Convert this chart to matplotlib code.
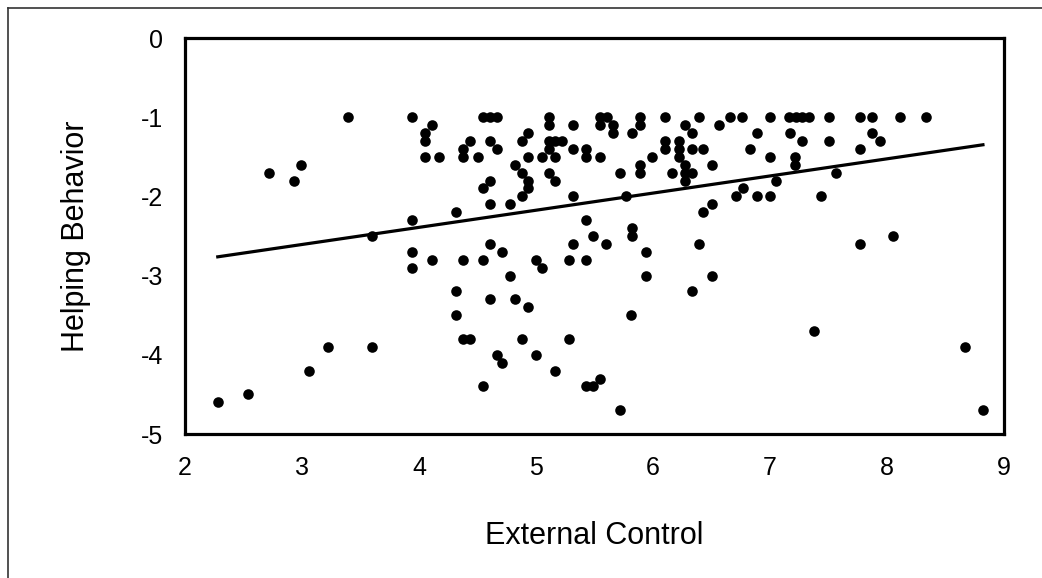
import numpy as np
import matplotlib.pyplot as plt
from matplotlib.lines import Line2D

plt.rcParams['font.family'] = ['Liberation Sans', 'DejaVu Sans']
plt.rcParams['axes.unicode_minus'] = False

# External Control (x) and Helping Behavior (y)
external_control = [
    2.28, 2.54, 2.72, 2.93, 2.99, 3.06, 3.22, 3.39, 3.60, 3.60,
    3.94, 3.94, 3.94, 3.94,
    4.05, 4.05, 4.05, 4.11, 4.11, 4.17,
    4.32, 4.32, 4.32,
    4.38, 4.38, 4.38, 4.38, 4.44, 4.44,
    4.50,
    4.55, 4.55, 4.55, 4.55,
    4.61, 4.61, 4.61, 4.61, 4.61, 4.61,
    4.67, 4.67, 4.67, 4.71, 4.71,
    4.78, 4.78, 4.82, 4.82,
    4.88, 4.88, 4.88, 4.88,
    4.93, 4.93, 4.93, 4.93, 4.93,
    5.00, 5.00, 5.05, 5.05,
    5.11, 5.11, 5.11, 5.11, 5.11,
    5.16, 5.16, 5.16, 5.16, 5.22,
    5.28, 5.28,
    5.32, 5.32, 5.32, 5.32,
    5.43, 5.43, 5.43, 5.43, 5.43,
    5.49, 5.49,
    5.55, 5.55, 5.55, 5.55,
    5.61, 5.60,
    5.66, 5.66,
    5.72, 5.72, 5.77,
    5.82, 5.82, 5.82, 5.81,
    5.89, 5.89, 5.89, 5.89,
    5.94, 5.94, 5.99,
    6.10, 6.10, 6.10,
    6.16,
    6.22, 6.22, 6.22,
    6.27, 6.27, 6.27, 6.27,
    6.33, 6.33, 6.33, 6.33,
    6.39, 6.39,
    6.43, 6.43,
    6.50, 6.50, 6.50,
    6.56,
    6.66, 6.71, 6.76, 6.77, 6.83,
    6.89, 6.89,
    7.00, 7.00, 7.00, 7.05,
    7.16, 7.17, 7.22, 7.21, 7.21,
    7.27, 7.27, 7.33,
    7.38, 7.44,
    7.50, 7.50, 7.56,
    7.77, 7.77, 7.77,
    7.87, 7.87, 7.94,
    8.05, 8.11, 8.33,
    8.67, 8.82,
]
helping_behavior = [
    -4.6, -4.5, -1.7, -1.8, -1.6, -4.2, -3.9, -1.0, -2.5, -3.9,
    -1.0, -2.3, -2.7, -2.9,
    -1.2, -1.3, -1.5, -1.1, -2.8, -1.5,
    -2.2, -3.2, -3.5,
    -1.4, -1.5, -2.8, -3.8, -1.3, -3.8,
    -1.5,
    -1.0, -1.9, -2.8, -4.4,
    -1.0, -1.3, -1.8, -2.1, -2.6, -3.3,
    -1.0, -1.4, -4.0, -2.7, -4.1,
    -2.1, -3.0, -1.6, -3.3,
    -1.3, -1.7, -2.0, -3.8,
    -1.2, -1.5, -1.8, -1.9, -3.4,
    -2.8, -4.0, -1.5, -2.9,
    -1.0, -1.1, -1.3, -1.4, -1.7,
    -1.3, -1.5, -1.8, -4.2, -1.3,
    -2.8, -3.8,
    -1.1, -1.4, -2.0, -2.6,
    -1.4, -1.5, -2.3, -2.8, -4.4,
    -2.5, -4.4,
    -1.0, -1.1, -1.5, -4.3,
    -1.0, -2.6,
    -1.1, -1.2,
    -1.7, -4.7, -2.0,
    -1.2, -2.4, -2.5, -3.5,
    -1.0, -1.1, -1.6, -1.7,
    -2.7, -3.0, -1.5,
    -1.0, -1.3, -1.4,
    -1.7,
    -1.3, -1.4, -1.5,
    -1.1, -1.6, -1.7, -1.8,
    -1.2, -1.4, -1.7, -3.2,
    -1.0, -2.6,
    -1.4, -2.2,
    -1.6, -2.1, -3.0,
    -1.1,
    -1.0, -2.0, -1.0, -1.9, -1.4,
    -1.2, -2.0,
    -1.0, -1.5, -2.0, -1.8,
    -1.0, -1.2, -1.0, -1.5, -1.6,
    -1.0, -1.3, -1.0,
    -3.7, -2.0,
    -1.0, -1.3, -1.7,
    -1.0, -1.4, -2.6,
    -1.0, -1.2, -1.3,
    -2.5, -1.0, -1.0,
    -3.9, -4.7,
]

x_ticks = [2, 3, 4, 5, 6, 7, 8, 9]
y_ticks = [0, -1, -2, -3, -4, -5]

x = np.array(external_control)
y = np.array(helping_behavior)

fig = plt.figure(figsize=(10.42, 5.78), dpi=100)
ax = fig.add_axes([185 / 1042, 1 - 434 / 578, (1004 - 185) / 1042, (434 - 38) / 578])

ax.scatter(x, y, s=58, color='black', zorder=3, linewidths=0)

# linear trendline over the data range
slope, intercept = np.polyfit(x, y, 1)
xs = np.array([x.min(), x.max()])
ax.plot(xs, slope * xs + intercept, color='black', lw=2.3, zorder=2)

ax.set_xlim(2, 9)
ax.set_ylim(-5, 0)
ax.set_xticks(x_ticks)
ax.set_yticks(y_ticks)
ax.tick_params(length=0, labelsize=18)
ax.tick_params(axis='x', pad=16)
ax.tick_params(axis='y', pad=16)
for sp in ax.spines.values():
    sp.set_linewidth(2.3)
    sp.set_color('black')

ax.set_xlabel('External Control', fontsize=22, va='center')
ax.set_ylabel('Helping Behavior', fontsize=22, va='center')
ax.xaxis.set_label_coords(0.5, -0.258)
ax.yaxis.set_label_coords(-0.133, 0.5)

# outer chart border (left and top visible)
fig.add_artist(Line2D([8 / 1042, 8 / 1042], [0, 1 - 8 / 578], color='#333333', lw=1.2))
fig.add_artist(Line2D([8 / 1042, 1], [1 - 8 / 578, 1 - 8 / 578], color='#333333', lw=1.2))

fig.savefig('out.png', dpi=100)
